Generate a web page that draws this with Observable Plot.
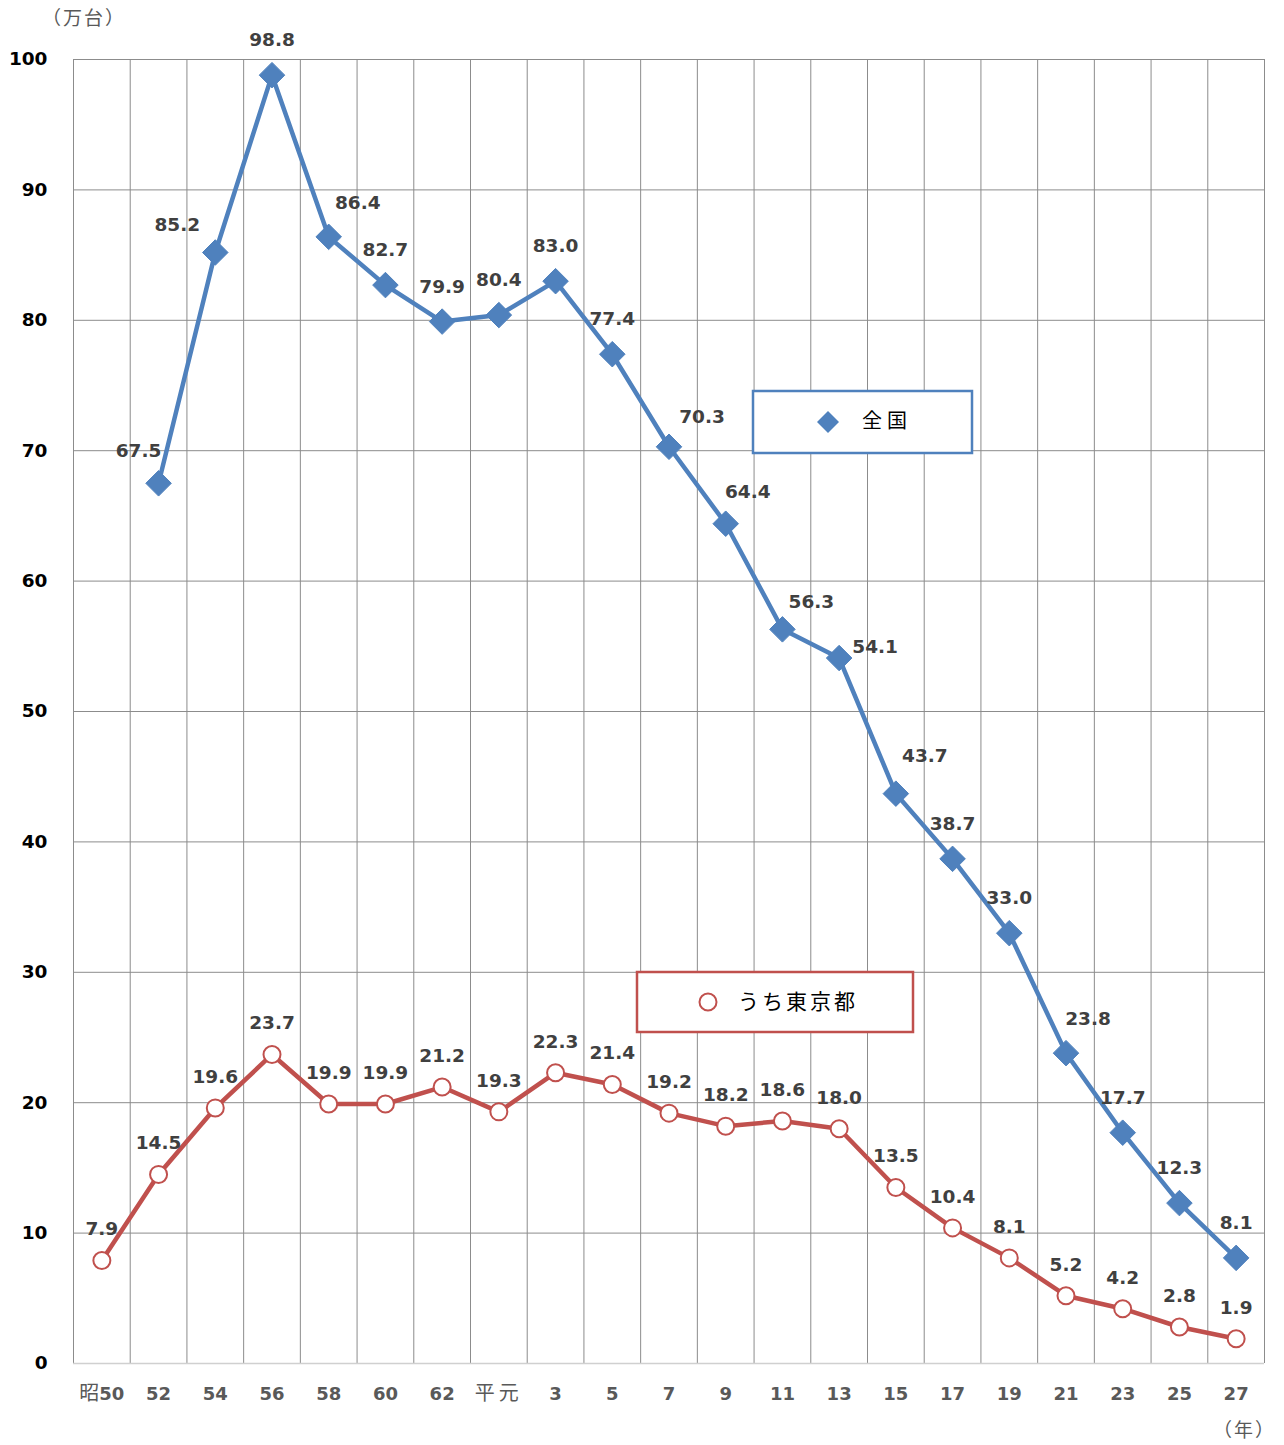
<!DOCTYPE html>
<html>
<head>
<meta charset="utf-8">
<script src="https://cdn.jsdelivr.net/npm/d3@7"></script>
<script src="https://cdn.jsdelivr.net/npm/@observablehq/plot@0.6"></script>
<style>
  html, body { margin: 0; padding: 0; background: #fff; }
  #chart { position: relative; width: 1284px; height: 1445px; }
</style>
</head>
<body>
<div id="chart"></div>
<script>
// ---- data ----
const years = ["昭50","52","54","56","58","60","62","平元","3","5","7","9","11","13","15","17","19","21","23","25","27"];
const nationwide = [null, 67.5, 85.2, 98.8, 86.4, 82.7, 79.9, 80.4, 83.0, 77.4, 70.3, 64.4, 56.3, 54.1, 43.7, 38.7, 33.0, 23.8, 17.7, 12.3, 8.1];
const tokyo = [7.9, 14.5, 19.6, 23.7, 19.9, 19.9, 21.2, 19.3, 22.3, 21.4, 19.2, 18.2, 18.6, 18.0, 13.5, 10.4, 8.1, 5.2, 4.2, 2.8, 1.9];
const yTicks = [0,10,20,30,40,50,60,70,80,90,100];
const seriesNames = ["全国", "うち東京都"];

// ---- label placement (layout only) ----
const nationNudge = {1:[-20,-32],2:[-38,-27],4:[29,-34],10:[33,-30],11:[22,-32],12:[29,-27],13:[36,-11],14:[29,-38],17:[22,-34]};

const blue = "#4F81BD", red = "#C0504D", grid = "#8c8c8c";
const font = "'DejaVu Sans', 'Noto Sans CJK JP', sans-serif";
const cjk = "'Noto Sans CJK JP', sans-serif";

const nat = nationwide.map((v,i)=>({i, v})).filter(d => d.v != null);
const tok = tokyo.map((v,i)=>({i, v}));

const natLabels = nat.map(d => {
  const [dx, dy] = nationNudge[d.i] || [0, -35];
  return Plot.text([d], {x:"i", y:"v", text: d => d.v.toFixed(1), dx, dy,
    fill:"#404040", fontWeight:"bold", fontSize:18.5});
});

const plot = Plot.plot({
  width: 1284, height: 1445,
  marginLeft: 73, marginRight: 20, marginTop: 59, marginBottom: 82,
  style: {fontFamily: font, background: "#fff", overflow: "visible"},
  x: {type: "linear", domain: [-0.5, years.length - 0.5]},
  y: {domain: [0, 100]},
  marks: [
    Plot.ruleY(yTicks.filter(t => t > 0), {stroke: grid, strokeWidth: 1}),
    Plot.ruleX(d3.range(years.length + 1).map(i => i - 0.5), {stroke: grid, strokeWidth: 1}),
    Plot.ruleY([0], {stroke: "#d0d0d0", strokeWidth: 1.5}),
    Plot.axisY({ticks: yTicks, tickSize: 0, tickPadding: 26, fontSize: 18.5, fontWeight: "bold", fill: "#000", label: null}),
    Plot.axisX({ticks: d3.range(years.length), tickFormat: i => years[i], tickSize: 0, tickPadding: 24, fontSize: 18, fontWeight: "bold", fill: "#595959", label: null}),
    Plot.line(nat, {x: "i", y: "v", stroke: blue, strokeWidth: 4.5}),
    Plot.dot(nat, {x: "i", y: "v", symbol: "diamond2", r: 11.5, fill: blue, stroke: blue, strokeWidth: 1}),
    Plot.line(tok, {x: "i", y: "v", stroke: red, strokeWidth: 4.5}),
    Plot.dot(tok, {x: "i", y: "v", r: 8.5, fill: "#fff", stroke: red, strokeWidth: 2}),
    ...natLabels,
    Plot.text(tok, {x: "i", y: "v", text: d => d.v.toFixed(1), dy: -31, fill: "#404040", fontWeight: "bold", fontSize: 18.5})
  ]
});

document.getElementById("chart").appendChild(plot);

const svg = d3.select(plot);

// style CJK characters in x tick labels (normal weight, wider)
svg.selectAll("text").each(function() {
  const el = d3.select(this);
  if (el.selectAll("tspan").size() > 0) return;
  const t = el.text();
  if (!years.includes(t) || !/[^\x00-\x7F]/.test(t)) return;
  el.text(null);
  const parts = t.match(/[^\x00-\x7F]+|[\x00-\x7F]+/g);
  parts.forEach(p => {
    const ts = el.append("tspan").text(p);
    if (/[^\x00-\x7F]/.test(p)) {
      ts.attr("font-family", cjk).attr("font-weight", "normal").attr("font-size", 20)
        .attr("letter-spacing", p.length > 1 ? 4 : 0);
    }
  });
});

// ---- units & legends ----
svg.append("text").attr("x", 42).attr("y", 20).attr("dominant-baseline", "middle").attr("text-anchor", "start")
  .attr("font-family", cjk).attr("font-size", 19).attr("letter-spacing", 2).attr("fill", "#595959")
  .text("（万台）");
svg.append("text").attr("x", 1213).attr("y", 1432).attr("dominant-baseline", "middle").attr("text-anchor", "start")
  .attr("font-family", cjk).attr("font-size", 19).attr("letter-spacing", 2).attr("fill", "#595959")
  .text("（年）");

// legend: nationwide
const g1 = svg.append("g");
g1.append("rect").attr("x", 753).attr("y", 391).attr("width", 219).attr("height", 62)
  .attr("fill", "#fff").attr("stroke", blue).attr("stroke-width", 2.5);
g1.append("path").attr("transform", "translate(828,422)")
  .attr("d", "M0,-11L11,0L0,11L-11,0Z").attr("fill", blue);
g1.append("text").attr("x", 862).attr("y", 423).attr("dominant-baseline", "middle").attr("text-anchor", "start")
  .attr("font-family", cjk).attr("font-size", 20).attr("letter-spacing", 5)
  .attr("fill", "#000").text(seriesNames[0]);

// legend: tokyo
const g2 = svg.append("g");
g2.append("rect").attr("x", 637).attr("y", 972).attr("width", 276).attr("height", 60)
  .attr("fill", "#fff").attr("stroke", red).attr("stroke-width", 2.5);
g2.append("circle").attr("cx", 708).attr("cy", 1002).attr("r", 8.5)
  .attr("fill", "#fff").attr("stroke", red).attr("stroke-width", 2);
g2.append("text").attr("x", 738).attr("y", 1003).attr("dominant-baseline", "middle").attr("text-anchor", "start")
  .attr("font-family", cjk).attr("font-size", 21).attr("letter-spacing", 3)
  .attr("fill", "#000").text(seriesNames[1]);
</script>
</body>
</html>
